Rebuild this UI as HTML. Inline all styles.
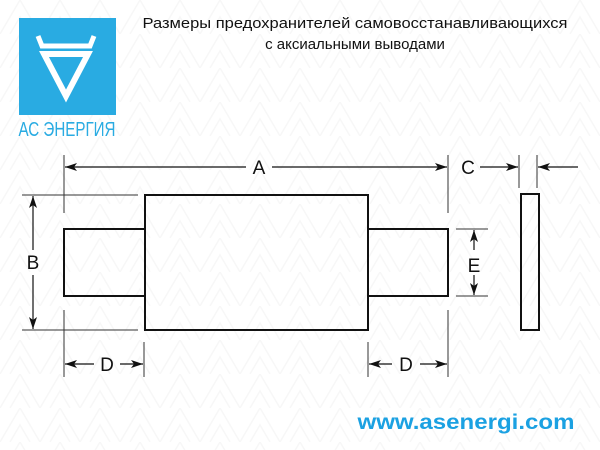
<!DOCTYPE html>
<html><head><meta charset="utf-8"><style>
html,body{margin:0;padding:0;background:#fff;}
svg{display:block;}
</style></head><body>
<svg width="600" height="450" viewBox="0 0 600 450" xmlns="http://www.w3.org/2000/svg" font-family="Liberation Sans, sans-serif">
<defs>
<marker id="ar" viewBox="0 0 12 8" refX="12" refY="4" markerWidth="13" markerHeight="8" orient="auto-start-reverse" markerUnits="userSpaceOnUse"><path d="M0,0 L12,4 L0,8 L3,4z" fill="#111"/></marker>
<pattern id="bg" width="40" height="34" patternUnits="userSpaceOnUse"><path d="M0,34 L20,0 L40,34 M10,34 L20,17 L30,34" fill="none" stroke="#f7f7f7" stroke-width="1.5"/></pattern>
</defs>
<rect width="600" height="450" fill="url(#bg)"/>
<!-- logo -->
<rect x="19" y="18" width="97" height="97" fill="#29abe2"/>
<path d="M38,36 L42,46 L90,46 L94,36" fill="none" stroke="#fff" stroke-width="5"/>
<path d="M44,54 L88,54 L66,96 Z" fill="none" stroke="#fff" stroke-width="6" stroke-linejoin="miter"/>
<text x="67" y="136" font-size="20" fill="#29abe2" text-anchor="middle" textLength="97" lengthAdjust="spacingAndGlyphs">АС ЭНЕРГИЯ</text>
<!-- title -->
<text x="355" y="28" font-size="15" fill="#111" text-anchor="middle" textLength="425" lengthAdjust="spacingAndGlyphs">Размеры предохранителей самовосстанавливающихся</text>
<text x="355" y="49" font-size="15" fill="#111" text-anchor="middle">с аксиальными выводами</text>
<!-- shapes -->
<g fill="none" stroke="#111" stroke-width="2">
<rect x="145" y="195" width="223" height="135"/>
<rect x="64" y="229" width="81" height="67"/>
<rect x="368" y="229" width="80" height="67"/>
<rect x="521" y="194" width="18" height="136"/>
</g>
<g stroke="#333" stroke-width="1" fill="none">
<line x1="64" y1="155" x2="64" y2="213"/>
<line x1="448" y1="155" x2="448" y2="213"/>
<line x1="519" y1="155" x2="519" y2="188"/>
<line x1="537" y1="155" x2="537" y2="188"/>
<line x1="22" y1="195" x2="138" y2="195"/>
<line x1="22" y1="330" x2="138" y2="330"/>
<line x1="456" y1="229" x2="488" y2="229"/>
<line x1="456" y1="296" x2="488" y2="296"/>
<line x1="64" y1="310" x2="64" y2="377"/>
<line x1="144" y1="342" x2="144" y2="377"/>
<line x1="368" y1="342" x2="368" y2="377"/>
<line x1="448" y1="310" x2="448" y2="377"/>
</g>
<g stroke="#111" stroke-width="1.2" fill="none">
<line x1="246" y1="167" x2="65" y2="167" marker-end="url(#ar)"/>
<line x1="272" y1="167" x2="447" y2="167" marker-end="url(#ar)"/>
<line x1="480" y1="167" x2="518" y2="167" marker-end="url(#ar)"/>
<line x1="578" y1="167" x2="538" y2="167" marker-end="url(#ar)"/>
<line x1="33" y1="250" x2="33" y2="196" marker-end="url(#ar)"/>
<line x1="33" y1="275" x2="33" y2="329" marker-end="url(#ar)"/>
<line x1="474" y1="250" x2="474" y2="230" marker-end="url(#ar)"/>
<line x1="474" y1="275" x2="474" y2="295" marker-end="url(#ar)"/>
<line x1="94" y1="364" x2="65" y2="364" marker-end="url(#ar)"/>
<line x1="120" y1="364" x2="143" y2="364" marker-end="url(#ar)"/>
<line x1="392" y1="364" x2="369" y2="364" marker-end="url(#ar)"/>
<line x1="420" y1="364" x2="447" y2="364" marker-end="url(#ar)"/>
</g>
<g font-size="19" fill="#111" text-anchor="middle">
<text x="259" y="174">A</text>
<text x="468" y="174">C</text>
<text x="33" y="269">B</text>
<text x="474" y="272">E</text>
<text x="107" y="371">D</text>
<text x="406" y="371">D</text>
</g>
<text x="466" y="429" font-size="21" font-weight="bold" fill="#1ba1e2" text-anchor="middle" textLength="217" lengthAdjust="spacingAndGlyphs">www.asenergi.com</text>
</svg>
</body></html>
